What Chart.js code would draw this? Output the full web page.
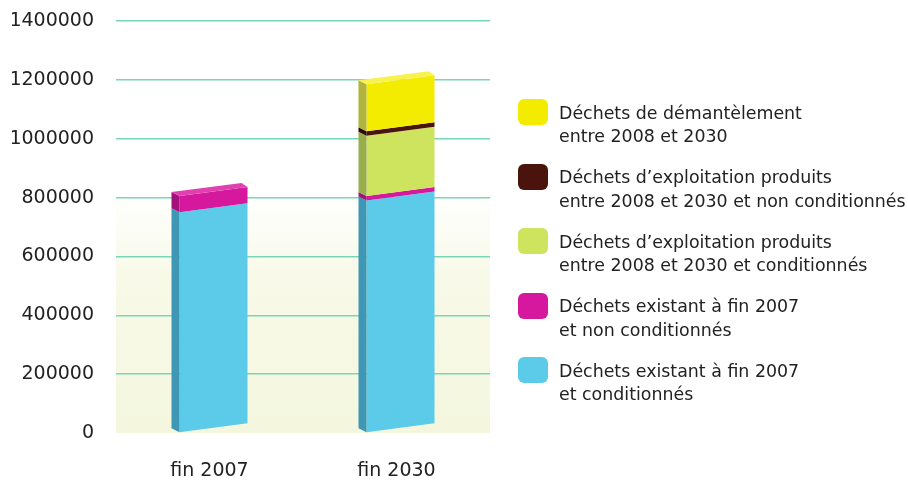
<!DOCTYPE html>
<html>
<head>
<meta charset="utf-8">
<script src="https://cdn.jsdelivr.net/npm/chart.js@4.4.0/dist/chart.umd.min.js"></script>
<style>
  html, body { margin: 0; padding: 0; background: #fff; }
  #wrap { position: relative; width: 908px; height: 480px; }
  #chart { position: absolute; left: 0; top: 0; }
  #legend { position: absolute; left: 518px; top: 99px; font-family: "DejaVu Sans", sans-serif; font-size: 17.4px; color: #222; }
  .item { position: absolute; left: 0; width: 390px; height: 60px; }
  .sw { position: absolute; left: 0; top: 0; width: 30px; height: 26px; border-radius: 6px; }
  .txt { position: absolute; left: 41px; top: 2.6px; line-height: 23.5px; white-space: nowrap; }
</style>
</head>
<body>
<div id="wrap">
  <canvas id="chart" width="908" height="480"></canvas>
  <div id="legend"></div>
</div>
<script>
/* ── data ───────────────────────────────── */
const categories = ['fin 2007', 'fin 2030'];
const yTicks = [0, 200000, 400000, 600000, 800000, 1000000, 1200000, 1400000];

// stacked from bottom to top
const existingConditioned    = [750000, 790000];
const existingUnconditioned  = [55000, 15000];
const operatingConditioned   = [0, 205000];
const operatingUnconditioned = [0, 15000];
const dismantling            = [0, 160000];

const seriesLabels = [
  ['Déchets existant à fin 2007', 'et conditionnés'],
  ['Déchets existant à fin 2007', 'et non conditionnés'],
  ["Déchets d’exploitation produits", 'entre 2008 et 2030 et conditionnés'],
  ["Déchets d’exploitation produits", 'entre 2008 et 2030 et non conditionnés'],
  ['Déchets de démantèlement', 'entre 2008 et 2030'],
];
const seriesColors = ['#5ccbea', '#d6189e', '#cfe45e', '#4a140c', '#f4ec00'];
const sideColors   = ['#3f97b6', '#a2127a', '#98ae4a', '#2e0a06', '#b0b43a'];
const capColors    = ['#7ed8f0', '#e040b0', '#dcec80', '#6a2a1e', '#f8f250'];

/* ── helpers ────────────────────────────── */
const FONT = '"DejaVu Sans", sans-serif';
const SIDE = 8;          // width of the dark side face
const SIDE_DY = 4;       // side face rises going left
const SLANT = 9 / 68;    // front face rises to the right

function poly(ctx, pts, color) {
  ctx.beginPath();
  ctx.moveTo(pts[0][0], pts[0][1]);
  for (let i = 1; i < pts.length; i++) ctx.lineTo(pts[i][0], pts[i][1]);
  ctx.closePath();
  ctx.fillStyle = color;
  ctx.fill();
}

// soft cream wash at the lower part of the plot
const plotWash = {
  id: 'plotWash',
  beforeDraw(chart) {
    const { ctx, chartArea: a, scales: { y } } = chart;
    const top = y.getPixelForValue(820000);
    const g = ctx.createLinearGradient(0, top, 0, a.bottom);
    g.addColorStop(0, 'rgba(246,248,226,0)');
    g.addColorStop(0.35, 'rgba(246,248,226,0.8)');
    g.addColorStop(1, 'rgba(244,247,222,1)');
    ctx.save();
    ctx.fillStyle = g;
    ctx.fillRect(a.left, top, a.right - a.left, a.bottom - top);
    ctx.restore();
  },
};

// pseudo 3D bars drawn from the bar elements' own geometry
const bars3d = {
  id: 'bars3d',
  beforeDatasetDraw() { return false; },
  afterDatasetsDraw(chart) {
    const { ctx } = chart;
    const n = chart.data.datasets.length;
    const topIndex = categories.map((_, j) => {
      let t = -1;
      for (let i = 0; i < n; i++) if (chart.data.datasets[i].data[j] > 0) t = i;
      return t;
    });
    ctx.save();
    for (let i = 0; i < n; i++) {
      const meta = chart.getDatasetMeta(i);
      meta.data.forEach((el, j) => {
        if (!(chart.data.datasets[i].data[j] > 0)) return;
        const { x, y, base, width } = el.getProps(['x', 'y', 'base', 'width'], true);
        const L = x - width / 2, R = x + width / 2, xf = L + SIDE;
        const d = SLANT * (R - xf);
        poly(ctx, [[xf, y], [R, y - d], [R, base - d], [xf, base]], seriesColors[i]);
        poly(ctx, [[L, y - SIDE_DY], [xf, y], [xf, base], [L, base - SIDE_DY]], sideColors[i]);
        if (i === topIndex[j]) {
          poly(ctx, [[L, y - SIDE_DY], [xf, y], [R, y - d], [R - SIDE + 2, y - d - SIDE_DY]], capColors[i]);
        }
      });
    }
    ctx.restore();
  },
};

/* ── chart ──────────────────────────────── */
const seriesValues = [existingConditioned, existingUnconditioned, operatingConditioned, operatingUnconditioned, dismantling];

new Chart(document.getElementById('chart'), {
  type: 'bar',
  data: {
    labels: categories,
    datasets: seriesValues.map((values, i) => ({
      label: seriesLabels[i].join(' '),
      data: values,
      backgroundColor: seriesColors[i],
      borderWidth: 0,
      barThickness: 76,
    })),
  },
  options: {
    responsive: false,
    animation: false,
    layout: { padding: { left: 12, right: 418, top: 21, bottom: 0 } },
    plugins: { legend: { display: false }, tooltip: { enabled: false } },
    scales: {
      x: {
        stacked: true,
        afterFit: (axis) => { axis.height = 47; },
        grid: { display: false },
        border: { display: false },
        ticks: { color: '#222', font: { family: FONT, size: 19 }, padding: 19 },
      },
      y: {
        stacked: true,
        min: 0,
        max: 1400000,
        afterFit: (axis) => { axis.width = 104; axis.paddingTop = 0; axis.paddingBottom = 0; },
        afterBuildTicks: (axis) => { axis.ticks = yTicks.map((v) => ({ value: v })); },
        grid: {
          color: (c) => (c.tick && c.tick.value === 0 ? 'rgba(0,0,0,0)' : '#78d6b6'),
          lineWidth: 1.5,
          drawTicks: false,
        },
        border: { display: false },
        ticks: { color: '#222', font: { family: FONT, size: 19 }, padding: 22, callback: (v) => String(v) },
      },
    },
  },
  plugins: [plotWash, bars3d],
});

/* ── legend (top to bottom = reverse stack order) ── */
const legendEl = document.getElementById('legend');
for (let k = 0; k < seriesLabels.length; k++) {
  const i = seriesLabels.length - 1 - k;
  const item = document.createElement('div');
  item.className = 'item';
  item.style.top = (k * 64.5) + 'px';
  item.innerHTML = `<div class="sw" style="background:${seriesColors[i]}"></div>` +
    `<div class="txt">${seriesLabels[i].join('<br>')}</div>`;
  legendEl.appendChild(item);
}
</script>
</body>
</html>
